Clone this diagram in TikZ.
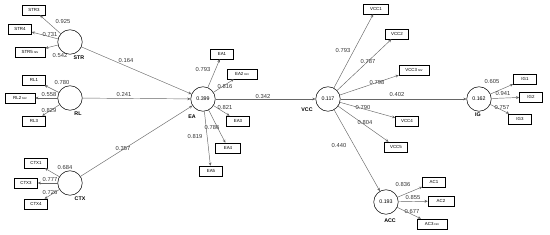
\documentclass[tikz,border=0pt]{standalone}
\usepackage{fontspec}
\setmainfont{Liberation Sans}
\usetikzlibrary{arrows.meta}
\newcommand{\rv}{{\fontsize{3.3}{4}\selectfont\ rev}}
\begin{document}
\begin{tikzpicture}[x=1pt, y=-1pt, >={Stealth[length=3.2pt, width=2.8pt]},
		latent/.style={circle, draw=black, line width=0.5pt, minimum size=24.5pt, inner sep=0pt, font=\fontsize{5.3}{6}\selectfont},
		ind/.style={rectangle, draw=black, line width=0.5pt, minimum width=23pt, minimum height=10pt, inner sep=1pt, font=\fontsize{4.4}{5}\selectfont},
		indrev/.style={ind, minimum width=30pt},
		lvname/.style={font=\fontsize{5.3}{6}\selectfont\bfseries, inner sep=0pt},
		coef/.style={font=\fontsize{5.8}{6}\selectfont, text=black!80, inner sep=0pt},
		load/.style={->, draw=black!60, line width=0.45pt},
		effect/.style={->, draw=black!60, line width=0.45pt}]
		\useasboundingbox (0,0) rectangle (550,235);
		
		% latent variables
		\node[latent] (str) at (70,42) {};
		\node[latent] (rl) at (70,98) {};
		\node[latent] (ctx) at (70,183) {};
		\node[latent] (ea) at (203,99) {0.399};
		\node[latent] (vcc) at (328,99) {0.117};
		\node[latent] (acc) at (386,202) {0.193};
		\node[latent] (ig) at (479,99) {0.162};
		
		\node[lvname] (strname) at (79,58) {STR};
		\node[lvname] (rlname) at (78,114) {RL};
		\node[lvname] (ctxname) at (80,199) {CTX};
		\node[lvname] (eaname) at (192,117) {EA};
		\node[lvname] (vccname) at (307,110) {VCC};
		\node[lvname] (accname) at (390,221) {ACC};
		\node[lvname] (igname) at (478,115) {IG};
		
		% indicators
		\node[ind] (str3) at (34,10) {STR3};
		\node[ind] (str4) at (20,29) {STR4};
		\node[indrev] (str5) at (30,52) {STR5\rv};
		\node[ind] (rl1) at (34,80) {RL1};
		\node[indrev] (rl2) at (20,98) {RL2\rv};
		\node[ind] (rl3) at (34,121) {RL3};
		\node[ind] (ctx1) at (36,163) {CTX1};
		\node[ind] (ctx3) at (26,183) {CTX3};
		\node[ind] (ctx4) at (36,204) {CTX4};
		
		\node[ind] (ea1) at (222,54) {EA1};
		\node[indrev] (ea2) at (242,74) {EA2\rv};
		\node[ind] (ea3) at (238,121) {EA3};
		\node[ind, minimum width=25pt] (ea4) at (228,148) {EA4};
		\node[ind] (ea5) at (211,171) {EA5};
		
		\node[ind, minimum width=25pt] (vcc1) at (376,9) {VCC1};
		\node[ind] (vcc2) at (397,34) {VCC2};
		\node[indrev] (vcc3) at (414,70) {VCC3\rv};
		\node[ind] (vcc4) at (407,121) {VCC4};
		\node[ind] (vcc5) at (396,147) {VCC5};
		
		\node[ind] (ac1) at (434,182) {AC1};
		\node[ind, minimum width=26pt] (ac2) at (441,201) {AC2};
		\node[indrev] (ac3) at (432,224) {AC3\rv};
		
		\node[ind] (ig1) at (525,79) {IG1};
		\node[ind] (ig2) at (531,97) {IG2};
		\node[ind] (ig3) at (520,119) {IG3};
		
		% outer loadings
		\draw[load] (str) -- (str3) node[coef] at (63,22) {0.925};
		\draw[load] (str) -- (str4) node[coef] at (50,35) {0.731};
		\draw[load] (str) -- (str5) node[coef] at (60,56) {0.542};
		\draw[load] (rl) -- (rl1) node[coef] at (62,83) {0.780};
		\draw[load] (rl) -- (rl2) node[coef] at (49,95) {0.558};
		\draw[load] (rl) -- (rl3) node[coef] at (49,111) {0.829};
		\draw[load] (ctx) -- (ctx1) node[coef] at (65,168) {0.684};
		\draw[load] (ctx) -- (ctx3) node[coef] at (50,180) {0.777};
		\draw[load] (ctx) -- (ctx4) node[coef] at (50,193) {0.726};
		
		\draw[load] (ea) -- (ea1) node[coef] at (203,70) {0.793};
		\draw[load] (ea) -- (ea2) node[coef] at (225,87) {0.816};
		\draw[load] (ea) -- (ea3) node[coef] at (225,108) {0.821};
		\draw[load] (ea) -- (ea4) node[coef] at (212,128) {0.786};
		\draw[load] (ea) -- (ea5) node[coef] at (195,137) {0.819};
		
		\draw[load] (vcc) -- (vcc1) node[coef] at (343,51) {0.793};
		\draw[load] (vcc) -- (vcc2) node[coef] at (368,62) {0.787};
		\draw[load] (vcc) -- (vcc3) node[coef] at (377,83) {0.798};
		\draw[load] (vcc) -- (vcc4) node[coef] at (363,108) {0.790};
		\draw[load] (vcc) -- (vcc5) node[coef] at (365,123) {0.804};
		
		\draw[load] (acc) -- (ac1) node[coef] at (403,185) {0.836};
		\draw[load] (acc) -- (ac2) node[coef] at (413,198) {0.855};
		\draw[load] (acc) -- (ac3) node[coef] at (412,212) {0.677};
		
		\draw[load] (ig) -- (ig1) node[coef] at (492,82) {0.605};
		\draw[load] (ig) -- (ig2) node[coef] at (503,94) {0.941};
		\draw[load] (ig) -- (ig3) node[coef] at (502,108) {0.757};
		
		% path coefficients
		\draw[effect] (str) -- (ea) node[coef] at (126,61) {0.164};
		\draw[effect] (rl) -- (ea) node[coef] at (124,95) {0.241};
		\draw[effect] (ctx) -- (ea) node[coef] at (123,149) {0.357};
		\draw[effect] (ea) -- (vcc) node[coef] at (263,97) {0.342};
		\draw[effect] (vcc) -- (ig) node[coef] at (397,95) {0.402};
		\draw[effect] (vcc) -- (acc) node[coef] at (339,146) {0.440};
	\end{tikzpicture}
\end{document}
